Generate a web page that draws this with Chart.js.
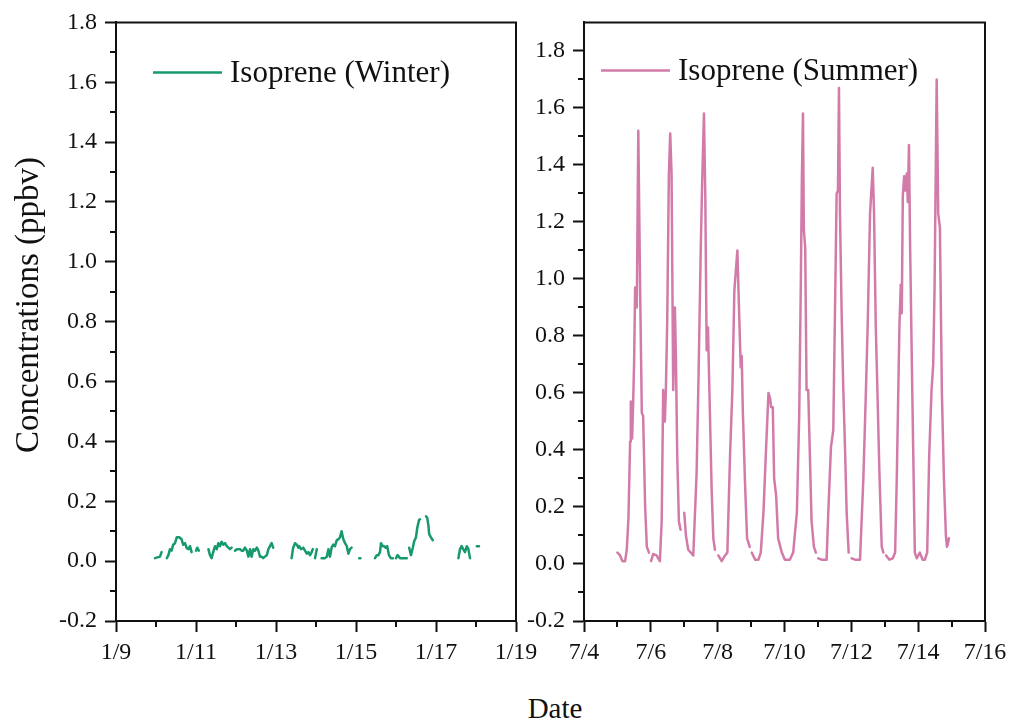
<!DOCTYPE html>
<html>
<head>
<meta charset="utf-8">
<script src="https://cdn.jsdelivr.net/npm/chart.js"></script>
<style>
  body{margin:0;background:#fff;}
  #wrap{position:relative;width:1016px;height:725px;overflow:hidden;}
  canvas{position:absolute;top:0;}
  #cWinter{left:0;}
  #cSummer{left:520px;}
  .ttl{position:absolute;text-align:center;font-family:"Liberation Serif",serif;color:#111;white-space:nowrap;}
  #xTitle{left:455px;width:200px;top:693px;font-size:29px;line-height:30px;}
  #yTitle{left:-173px;width:400px;top:287px;font-size:33px;line-height:36px;transform:rotate(-90deg);}
</style>
</head>
<body>
<div id="wrap">
  <canvas id="cWinter" width="560" height="680"></canvas>
  <canvas id="cSummer" width="496" height="680"></canvas>
  <div class="ttl" id="xTitle">Date</div>
  <div class="ttl" id="yTitle">Concentrations (ppbv)</div>
</div>
<script>
// --------------------
// DATA (day of month, ppbv) — null = gap in record
// --------------------
const winterDay = [9.975,10.1,10.14,10.2,10.27,10.31,10.35,10.39,10.43,10.475,10.52,10.58,10.64,10.68,10.725,10.77,10.81,10.85,10.89,10.93,
  11.0,11.03,11.07,11.2,11.31,11.35,11.39,11.43,11.475,11.52,11.56,11.6,11.64,11.68,11.725,11.77,11.81,11.85,11.89,11.93,
  11.975,12.02,12.06,12.1,12.14,12.18,12.225,12.27,12.31,12.35,12.39,12.43,12.475,12.52,12.56,12.6,12.64,12.68,12.725,12.77,12.81,12.85,12.89,12.93,13.1,
  13.39,13.43,13.475,13.52,13.56,13.58,13.625,13.68,13.725,13.77,13.81,13.85,13.875,13.92,13.95,13.975,14.02,14.08,
  14.14,14.225,14.27,14.31,14.35,14.39,14.43,14.475,14.52,14.56,14.6,14.64,14.68,14.725,14.77,14.81,14.85,14.89,14.99,
  15.08,15.11,15.3,15.475,15.52,15.56,15.6,15.625,15.67,15.71,15.74,15.78,15.825,15.87,15.92,15.96,
  16.0,16.04,16.1,16.18,16.27,16.3,16.33,16.375,16.42,16.45,16.5,16.53,16.575,16.6,16.68,16.75,16.78,16.81,16.83,16.87,16.92,17.2,
  17.56,17.6,17.64,17.68,17.725,17.77,17.81,17.85,17.95,18.02,18.075];
const winterConc = [0.01,0.015,0.03,null,0.01,0.02,0.04,0.035,0.055,0.06,0.08,0.08,0.073,0.055,0.06,0.043,0.04,0.05,0.03,null,
  0.035,0.045,0.035,null,0.04,0.02,0.01,0.03,0.05,0.04,0.06,0.05,0.065,0.055,0.06,0.05,0.045,0.04,0.045,null,
  0.035,0.04,0.04,0.04,0.035,0.035,0.045,0.035,0.015,0.04,0.015,0.04,0.035,0.045,0.035,0.015,0.015,0.01,0.015,0.02,0.04,0.05,0.06,0.045,null,
  0.01,0.045,0.06,0.055,0.045,0.05,0.04,0.045,0.035,0.025,0.03,0.02,0.025,0.04,null,0.01,0.04,null,
  0.01,0.01,0.015,0.04,0.015,0.045,0.055,0.05,0.07,0.073,0.08,0.10,0.075,0.06,0.05,0.025,0.04,0.045,null,
  0.01,0.01,null,0.01,0.02,0.02,0.03,0.06,0.05,0.05,0.045,0.05,0.02,0.01,0.01,null,
  0.01,0.02,0.01,0.01,0.01,null,0.045,0.02,0.045,0.065,0.08,0.11,0.137,0.14,null,0.15,0.145,0.12,0.09,0.08,0.07,null,
  0.01,0.04,0.05,0.04,0.03,0.05,0.04,0.01,null,0.05,0.05];

const summerDay = [5.0,5.08,5.15,5.23,5.28,5.33,5.38,5.40,5.44,5.47,5.50,5.53,5.58,5.625,5.68,5.73,5.77,5.83,5.88,5.945,5.975,
  6.005,6.07,6.17,6.27,6.325,6.37,6.42,6.45,6.49,6.54,6.58,6.62,6.67,6.72,6.75,6.79,6.84,6.89,6.95,
  7.0,7.05,7.12,7.27,7.37,7.43,7.49,7.53,7.59,7.63,7.67,7.71,7.75,7.82,7.87,7.92,7.97,
  8.02,8.12,8.22,8.29,8.37,8.44,8.50,8.59,8.65,8.69,8.72,8.75,8.82,8.88,8.96,8.99,
  9.02,9.12,9.22,9.29,9.37,9.45,9.52,9.57,9.60,9.65,9.69,9.75,9.81,9.92,10.01,10.16,10.26,10.37,10.44,10.49,10.52,10.553,10.58,10.62,10.66,10.71,10.76,10.81,10.88,10.94,10.97,
  11.01,11.11,11.26,11.31,11.39,11.46,11.51,11.56,11.60,11.63,11.66,11.71,11.76,11.81,11.86,11.92,11.96,
  12.01,12.11,12.26,12.36,12.43,12.49,12.56,12.64,12.68,12.73,12.78,12.84,12.91,12.96,13.0,
  13.04,13.14,13.24,13.31,13.36,13.44,13.48,13.51,13.54,13.58,13.61,13.66,13.69,13.725,13.76,13.81,13.85,13.90,13.96,14.05,
  14.135,14.20,14.27,14.33,14.40,14.45,14.49,14.554,14.60,14.65,14.71,14.77,14.83,14.86,14.89,14.92];
const summerConc = [0.04,0.03,0.01,0.01,0.05,0.16,0.43,0.57,0.44,0.56,0.71,0.97,0.90,1.52,0.96,0.53,0.52,0.20,0.06,0.04,null,
  0.01,0.035,0.03,0.01,0.15,0.61,0.50,0.61,0.85,1.37,1.51,1.37,0.61,0.90,0.73,0.38,0.15,0.12,null,
  0.18,0.10,0.05,0.03,0.32,0.67,1.08,1.31,1.58,1.29,0.75,0.83,0.62,0.26,0.09,0.05,null,
  0.03,0.01,0.03,0.04,0.38,0.61,0.96,1.10,0.85,0.69,0.73,0.55,0.28,0.09,0.06,null,
  0.04,0.015,0.015,0.04,0.18,0.41,0.60,0.58,0.55,0.55,0.30,0.24,0.09,0.04,0.015,0.015,0.04,0.18,0.52,1.00,1.35,1.58,1.17,1.11,0.61,0.61,0.38,0.15,0.06,0.04,null,
  0.02,0.015,0.015,0.18,0.41,0.47,0.88,1.30,1.31,1.67,1.23,0.88,0.61,0.41,0.18,0.04,null,
  0.02,0.015,0.015,0.30,0.58,0.84,1.23,1.39,1.23,0.84,0.61,0.32,0.06,0.04,null,
  0.03,0.015,0.02,0.04,0.30,0.84,0.98,0.88,1.29,1.36,1.31,1.37,1.27,1.47,1.11,0.71,0.41,0.04,0.02,0.04,
  0.015,0.015,0.04,0.38,0.61,0.70,0.96,1.70,1.23,1.18,0.60,0.30,0.10,0.06,0.07,0.09];

const winterTicksX = [9,19,2];   // min, max, step
const summerTicksX = [4,16,2];

// --------------------
// HELPERS
// --------------------
const FONT = 'Liberation Serif';
function pts(xs, ys){ return xs.map((d,i)=>({x:d, y:ys[i]})); }

// frame: top/right box, minor ticks, inline legend
const frame = {
  id:'frame',
  afterDraw(chart, args, o){
    const {ctx, chartArea:a, scales:{x, y}} = chart;
    ctx.save();
    ctx.strokeStyle = '#111'; ctx.lineWidth = 2; ctx.lineCap = 'square';
    ctx.beginPath();
    ctx.moveTo(a.left, a.top); ctx.lineTo(a.right, a.top); ctx.lineTo(a.right, a.bottom);
    ctx.stroke();
    ctx.lineCap = 'butt';
    ctx.beginPath();
    for(let v=x.min+1; v<x.max; v+=2){ const px=Math.round(x.getPixelForValue(v)); ctx.moveTo(px,a.bottom); ctx.lineTo(px,a.bottom+6); }
    for(let k=0;;k++){
      const v = y.min + 0.1 + 0.2*k;
      if(v > y.max - 0.05) break;
      const py = Math.round(y.getPixelForValue(v));
      ctx.moveTo(a.left,py); ctx.lineTo(a.left-6,py);
    }
    ctx.stroke();
    const ds = chart.data.datasets[0];
    const lx = a.left + o.lx, ly = a.top + o.ly;
    ctx.strokeStyle = ds.borderColor; ctx.lineWidth = 2.5;
    ctx.beginPath(); ctx.moveTo(lx,ly); ctx.lineTo(lx+69,ly); ctx.stroke();
    ctx.fillStyle = '#111'; ctx.font = '31px "'+FONT+'"'; ctx.textBaseline = 'middle';
    ctx.fillText(ds.label, lx+77, ly+1);
    ctx.restore();
  }
};

function makeChart(id, label, color, data, xr, prefix, yMax, yWidth, padRight, lg){
  return new Chart(document.getElementById(id), {
    type:'line',
    data:{ datasets:[{ label, data, borderColor:color, borderWidth:2.5, pointRadius:0,
      tension:0, spanGaps:false, borderJoinStyle:'round', borderCapStyle:'round' }]},
    options:{
      responsive:false, animation:false, devicePixelRatio:1,
      layout:{ padding:{ left:0, top:22, right:padRight, bottom:0 } },
      plugins:{ legend:{display:false}, tooltip:{enabled:false}, frame:lg },
      scales:{
        x:{ type:'linear', min:xr[0], max:xr[1],
          grid:{ drawOnChartArea:false, tickLength:11, tickWidth:2, tickColor:'#111' },
          border:{ display:true, width:2, color:'#111' },
          ticks:{ stepSize:xr[2], color:'#111', padding:6, maxRotation:0, autoSkip:false,
            font:{ family:FONT, size:24 }, callback:v=>prefix+v },
          afterFit:s=>{ s.height = 59; } },
        y:{ min:-0.2, max:yMax,
          grid:{ drawOnChartArea:false, tickLength:11, tickWidth:2, tickColor:'#111' },
          border:{ display:true, width:2, color:'#111' },
          ticks:{ stepSize:0.2, includeBounds:false, color:'#111', padding:8,
            font:{ family:FONT, size:24 }, callback:v=>Number(v).toFixed(1) },
          afterFit:s=>{ s.width = yWidth; } }
      }
    },
    plugins:[frame]
  });
}

// --------------------
// CHARTS
// --------------------
makeChart('cWinter', 'Isoprene (Winter)', '#16996d', pts(winterDay, winterConc), winterTicksX, '1/',
  1.8, 116, 44, {lx:37, ly:50});
makeChart('cSummer', 'Isoprene (Summer)', '#d27ba9', pts(summerDay, summerConc), summerTicksX, '7/',
  1.9, 64, 31, {lx:17, ly:48});
</script>
</body>
</html>
